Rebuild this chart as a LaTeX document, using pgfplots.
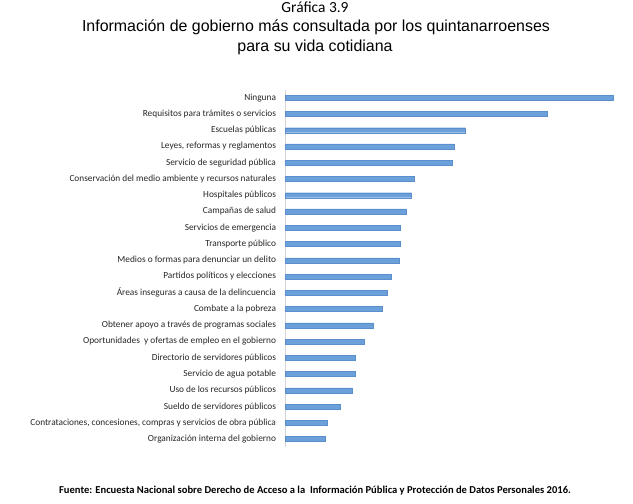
\documentclass[border=0pt]{standalone}
\usepackage{fontspec}
\setmainfont{Carlito}
\newfontfamily\arialf{Liberation Sans}
\usepackage{pgfplots}
\pgfplotsset{compat=1.18}
\definecolor{barblue}{HTML}{6BA0DA}
\definecolor{baredge}{HTML}{5B8FCB}
\definecolor{axgray}{HTML}{D4D4D4}
\definecolor{lblgray}{HTML}{262626}
\pgfplotstableread{
idx val
0 32.8
1 26.2
2 18.0
3 16.85
4 16.65
5 12.9
6 12.6
7 12.1
8 11.5
9 11.45
10 11.35
11 10.6
12 10.2
13 9.7
14 8.8
15 7.9
16 7.0
17 7.0
18 6.7
19 5.5
20 4.2
21 4.0
}\datatable
\begin{document}
\begin{tikzpicture}[x=1bp,y=1bp]
\useasboundingbox (0,0) rectangle (633,504);
\node[anchor=base] at (315,491.5) {\fontsize{15.5}{18}\selectfont Gráfica 3.9};
\node[anchor=base] at (316,472) {\arialf\fontsize{16}{18}\selectfont Información de gobierno más consultada por los quintanarroenses};
\node[anchor=base] at (315,452) {\arialf\fontsize{16}{18}\selectfont para su vida cotidiana};
\node[anchor=base] at (315,10) {\bfseries\fontsize{10.6}{12}\selectfont Fuente: Encuesta Nacional sobre Derecho de Acceso a la\ \ Información Pública y Protección de Datos Personales 2016.};
\begin{axis}[
  at={(285.5bp,57bp)}, anchor=south west,
  scale only axis,
  width=334.5bp, height=356.9bp,
  xmin=0, xmax=33.45,
  ymin=-0.47, ymax=21.49,
  y dir=reverse,
  xbar, bar width=5bp,
  axis x line=none,
  axis y line=left,
  axis line style={draw=axgray, line width=1.3bp, -},
  ytick={0,...,21},
  yticklabels={{Ninguna},{Requisitos para trámites o servicios},{Escuelas públicas},{Leyes, reformas y reglamentos},{Servicio de seguridad pública},{Conservación del medio ambiente y recursos naturales},{Hospitales públicos},{Campañas de salud},{Servicios de emergencia},{Transporte público},{Medios o formas para denunciar un delito},{Partidos políticos y elecciones},{Áreas inseguras a causa de la delincuencia},{Combate a la pobreza},{Obtener apoyo a través de programas sociales},{Oportunidades\ \ y ofertas de empleo en el gobierno},{Directorio de servidores públicos},{Servicio de agua potable},{Uso de los recursos públicos},{Sueldo de servidores públicos},{Contrataciones, concesiones, compras y servicios de obra pública},{Organización interna del gobierno}},
  ytick style={draw=none},
  major tick length=0pt,
  yticklabel style={font=\fontsize{9.35}{11}\selectfont, text=lblgray, xshift=-6bp},
  clip=false,
]
\addplot[fill=barblue, draw=baredge, line width=0.4bp] table[x=val, y=idx] {\datatable};
\end{axis}
\end{tikzpicture}
\end{document}
